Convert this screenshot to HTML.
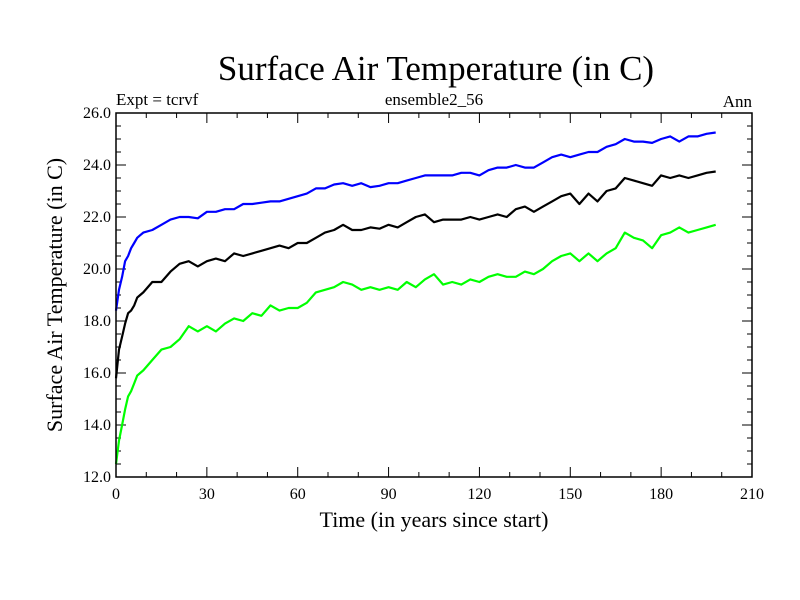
<!DOCTYPE html>
<html><head><meta charset="utf-8"><style>
body{margin:0;background:#fff;}
svg{display:block;font-family:"Liberation Serif",serif;}
</style></head><body>
<svg id="chart" width="800" height="600">
<text x="436" y="80" font-size="35" text-anchor="middle">Surface Air Temperature (in C)</text>
<text x="116" y="105" font-size="17">Expt = tcrvf</text>
<text x="434" y="105" font-size="17" text-anchor="middle">ensemble2_56</text>
<text x="752" y="107" font-size="17" text-anchor="end">Ann</text>
<text x="434" y="527" font-size="22" text-anchor="middle">Time (in years since start)</text>
<text transform="translate(62,295) rotate(-90)" font-size="22" text-anchor="middle">Surface Air Temperature (in C)</text>
<g id="axes"></g>
<g id="series"></g>
<rect x="116" y="113" width="636" height="364" fill="none" stroke="#000" stroke-width="1.5"/>
</svg>
<script>
const years=[0,1,2,3,4,5,6,7,8,9,12,15,18,21,24,27,30,33,36,39,42,45,48,51,54,57,60,63,66,69,72,75,78,81,84,87,90,93,96,99,102,105,108,111,114,117,120,123,126,129,132,135,138,141,144,147,150,153,156,159,162,165,168,171,174,177,180,183,186,189,192,195,198];
const blueVals=[18.4,19.2,19.7,20.3,20.5,20.8,21.0,21.2,21.3,21.4,21.5,21.7,21.9,22.0,22.0,21.95,22.2,22.2,22.3,22.3,22.5,22.5,22.55,22.6,22.6,22.7,22.8,22.9,23.1,23.1,23.25,23.3,23.2,23.3,23.15,23.2,23.3,23.3,23.4,23.5,23.6,23.6,23.6,23.6,23.7,23.7,23.6,23.8,23.9,23.9,24.0,23.9,23.9,24.1,24.3,24.4,24.3,24.4,24.5,24.5,24.7,24.8,25.0,24.9,24.9,24.85,25.0,25.1,24.9,25.1,25.1,25.2,25.25];
const blackVals=[15.8,16.9,17.4,17.9,18.3,18.4,18.6,18.9,19.0,19.1,19.5,19.5,19.9,20.2,20.3,20.1,20.3,20.4,20.3,20.6,20.5,20.6,20.7,20.8,20.9,20.8,21.0,21.0,21.2,21.4,21.5,21.7,21.5,21.5,21.6,21.55,21.7,21.6,21.8,22.0,22.1,21.8,21.9,21.9,21.9,22.0,21.9,22.0,22.1,22.0,22.3,22.4,22.2,22.4,22.6,22.8,22.9,22.5,22.9,22.6,23.0,23.1,23.5,23.4,23.3,23.2,23.6,23.5,23.6,23.5,23.6,23.7,23.75];
const greenVals=[12.5,13.4,14.0,14.6,15.1,15.3,15.6,15.9,16.0,16.1,16.5,16.9,17.0,17.3,17.8,17.6,17.8,17.6,17.9,18.1,18.0,18.3,18.2,18.6,18.4,18.5,18.5,18.7,19.1,19.2,19.3,19.5,19.4,19.2,19.3,19.2,19.3,19.2,19.5,19.3,19.6,19.8,19.4,19.5,19.4,19.6,19.5,19.7,19.8,19.7,19.7,19.9,19.8,20.0,20.3,20.5,20.6,20.3,20.6,20.3,20.6,20.8,21.4,21.2,21.1,20.8,21.3,21.4,21.6,21.4,21.5,21.6,21.7];
const xTickLabels=[0,30,60,90,120,150,180,210];
const yTickLabels=["12.0","14.0","16.0","18.0","20.0","22.0","24.0","26.0"];
const X0=116,X1=752,Y0=477,Y1=113,xMin=0,xMax=210,yMin=12,yMax=26;
const xs=v=>X0+(v-xMin)/(xMax-xMin)*(X1-X0);
const ys=v=>Y0-(v-yMin)/(yMax-yMin)*(Y0-Y1);
const NS="http://www.w3.org/2000/svg";
const axes=document.getElementById('axes'),ser=document.getElementById('series');
function mk(t,a,p){const e=document.createElementNS(NS,t);for(const k in a)e.setAttribute(k,a[k]);p.appendChild(e);return e;}
for(let v=0;v<=210;v+=10){const x=xs(v),L=(v%30===0)?10:5;
 const t1=mk('line',{x1:x,y1:Y0,x2:x,y2:Y0-L,stroke:'#000'},axes);
 
 
 const t2=mk('line',{x1:x,y1:Y1,x2:x,y2:Y1+L,stroke:'#000'},axes);
 
 }
xTickLabels.forEach(v=>{const t=mk('text',{x:xs(v),y:Y0+22,'font-size':16,'text-anchor':'middle'},axes);t.textContent=v;
 
 });
for(let v=12;v<=26.001;v+=0.5){const y=ys(v),L=(Math.abs(v%2)<0.01)?10:5;
 const t1=mk('line',{x1:X0,y1:y,x2:X0+L,y2:y,stroke:'#000'},axes);
 
 
 const t2=mk('line',{x1:X1,y1:y,x2:X1-L,y2:y,stroke:'#000'},axes);
 
 }
yTickLabels.forEach(s=>{const t=mk('text',{x:X0-5,y:ys(parseFloat(s))+5,'font-size':16,'text-anchor':'end'},axes);t.textContent=s;
 
 });
function line(vals,color,name){const d=vals.map((v,i)=>(i?'L':'M')+xs(years[i]).toFixed(1)+','+ys(v).toFixed(1)).join('');
 const p=mk('path',{d:d,fill:'none',stroke:color,'stroke-width':2.2,'stroke-linejoin':'round'},ser);
 
 }
line(blueVals,'#0000ff','series-blue');
line(blackVals,'#000000','series-black');
line(greenVals,'#00ff00','series-green');
</script>
</body></html>
